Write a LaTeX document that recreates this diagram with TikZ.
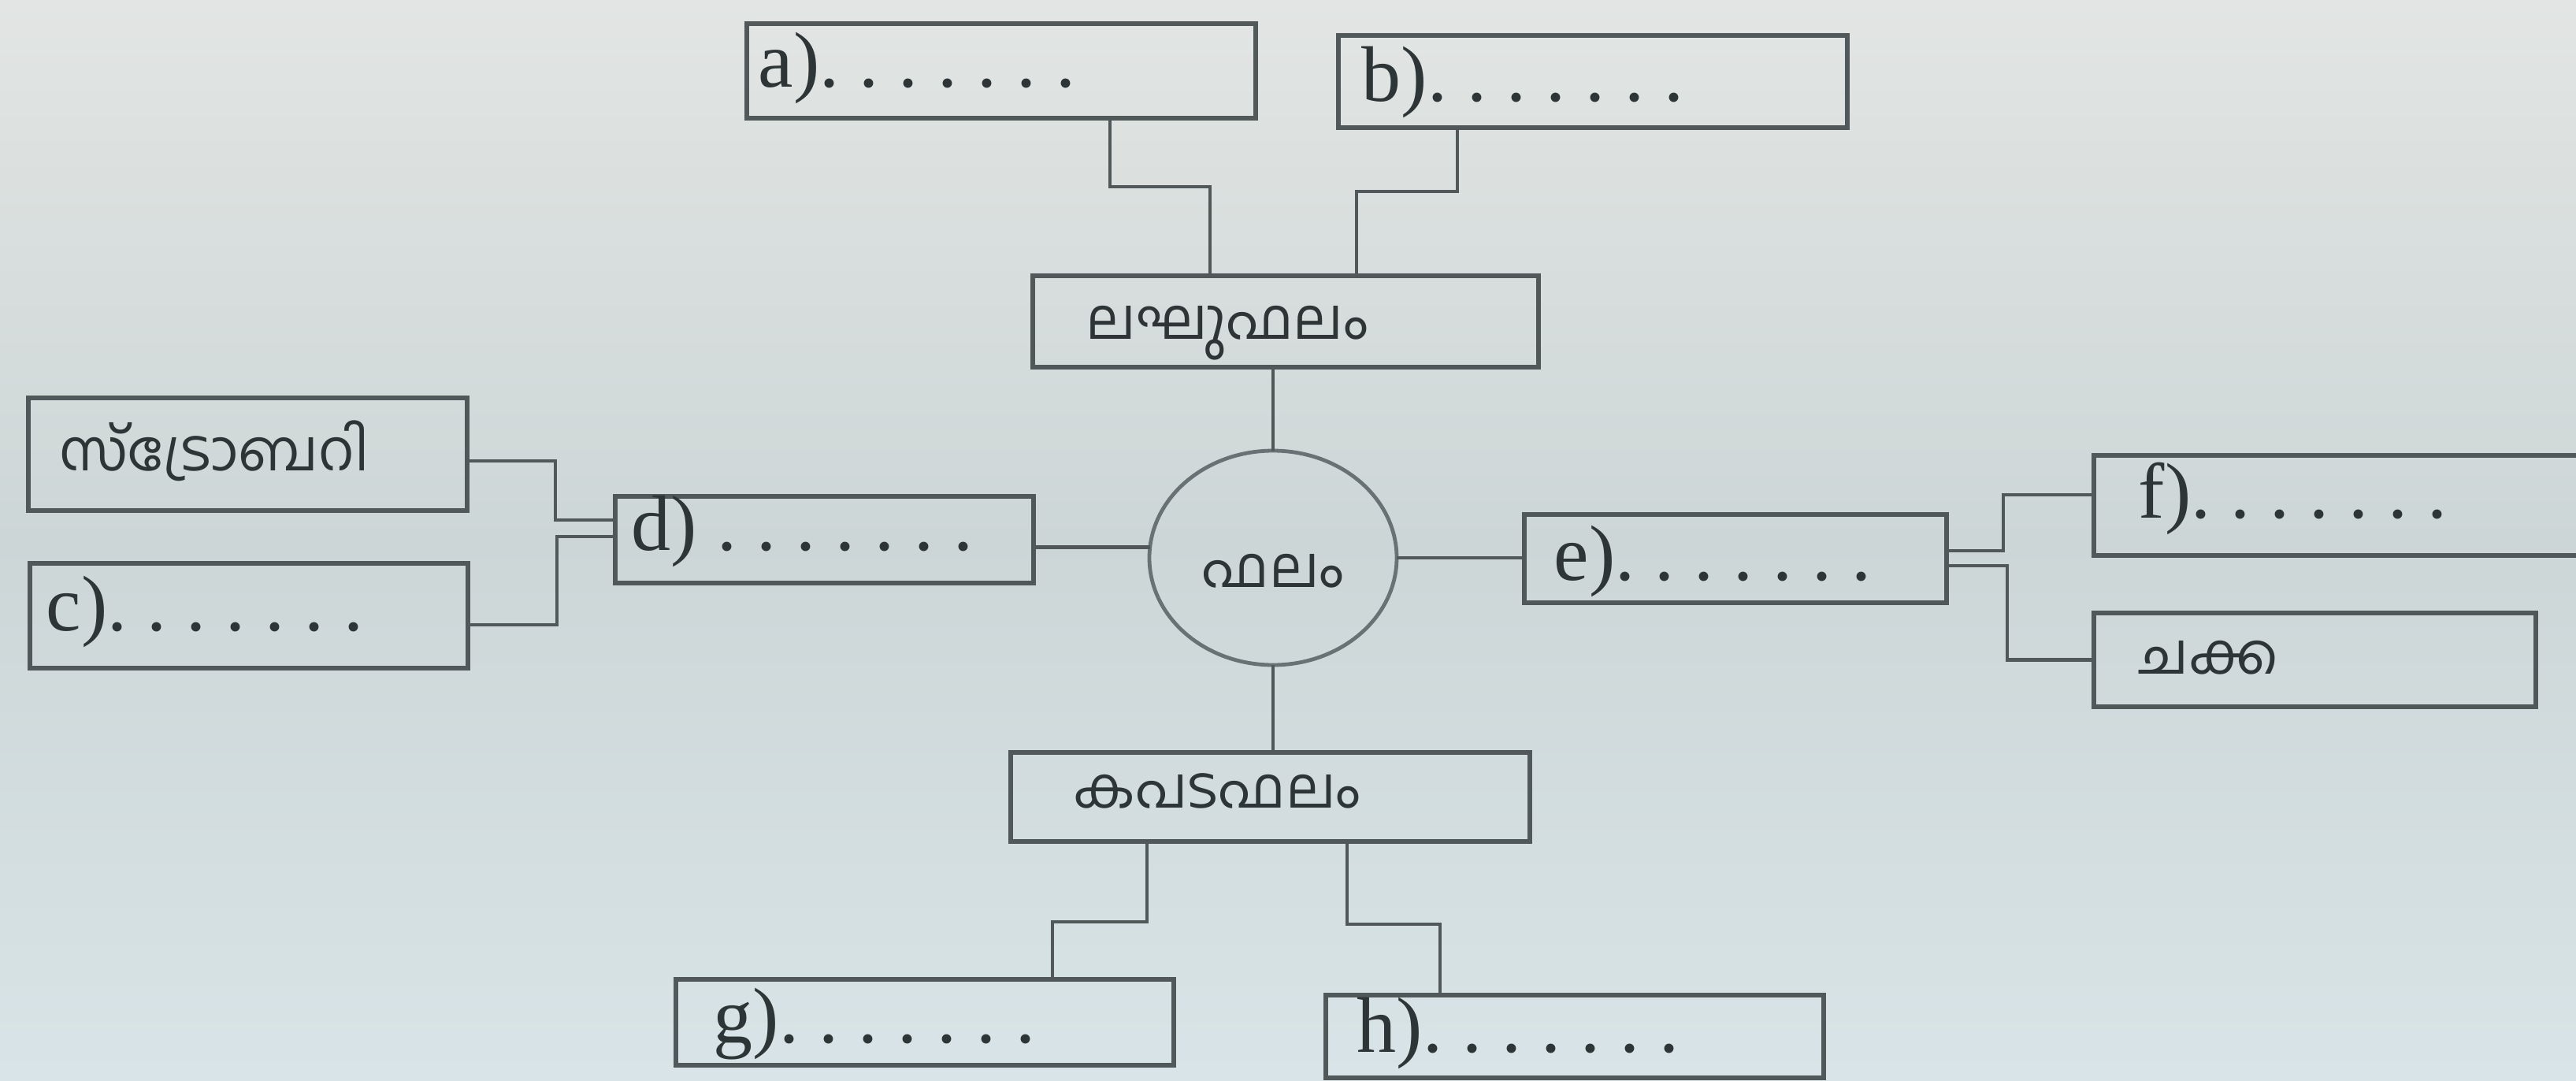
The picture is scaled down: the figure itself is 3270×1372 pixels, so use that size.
\documentclass[tikz,border=0pt]{standalone}
\usepackage{fontspec}
\setmainfont{Liberation Serif}
\newfontfamily\mal[Script=Malayalam]{Hind Kochi}
\usetikzlibrary{shapes.geometric}
\frenchspacing
\definecolor{linec}{HTML}{505859}
\definecolor{circc}{HTML}{687274}
\definecolor{txtc}{HTML}{2E3536}
\definecolor{bgtop}{HTML}{E2E5E3}
\definecolor{bgmid}{HTML}{CDD6D7}
\definecolor{bgbot}{HTML}{D8E4E7}
\def\pxu{0.25pt}
\begin{document}
\begin{tikzpicture}[x=0.25pt,y=-0.25pt,
  box/.style={draw=linec, line width=1.6pt, inner sep=0pt, outer sep=0pt, anchor=north west},
  conn/.style={draw=linec, line width=1.2pt},
  lat/.style={anchor=base west, inner sep=0pt, text=txtc, font=\fontsize{25}{25}\selectfont},
  mtxt/.style={anchor=base west, inner sep=0pt, text=txtc, font=\mal\fontsize{18}{18}\selectfont}]
\useasboundingbox (0,0) rectangle (3270,1372);
\shade[top color=bgtop, bottom color=bgbot, middle color=bgmid] (0,0) rectangle (3270,1372);
\begin{scope}
\clip (0,0) rectangle (3270,1372);
% boxes
\node[box, minimum width=646*\pxu, minimum height=120*\pxu] (a) at (948,30) {};
\node[box, minimum width=646*\pxu, minimum height=117*\pxu] (b) at (1699,45) {};
\node[box, minimum width=642*\pxu, minimum height=116*\pxu] (simple) at (1311,350) {};
\node[box, minimum width=557*\pxu, minimum height=143*\pxu] (straw) at (36,505) {};
\node[box, minimum width=556*\pxu, minimum height=133*\pxu] (c) at (38,715) {};
\node[box, minimum width=531*\pxu, minimum height=110*\pxu] (d) at (781,630) {};
\node[box, minimum width=536*\pxu, minimum height=112*\pxu] (e) at (1935,653) {};
\node[box, minimum width=700*\pxu, minimum height=127*\pxu] (f) at (2658,578) {};
\node[box, minimum width=561*\pxu, minimum height=119*\pxu] (chakka) at (2658,778) {};
\node[box, minimum width=659*\pxu, minimum height=113*\pxu] (false) at (1283,955) {};
\node[box, minimum width=632*\pxu, minimum height=109*\pxu] (g) at (858,1243) {};
\node[box, minimum width=632*\pxu, minimum height=105*\pxu] (h) at (1683,1263) {};
\node[draw=circc, line width=1.2pt, ellipse, minimum width=314*\pxu, minimum height=272*\pxu, inner sep=0pt, outer sep=0pt] (fruit) at (1616,708) {};
% texts
\node[lat] (ta) at (962,110) {a). . . . . . .};
\node[lat] (tb) at (1728,128) {b). . . . . . .};
\node[lat] (tc) at (58,800) {c). . . . . . .};
\node[lat] (td) at (801,698) {d) . . . . . . .};
\node[lat] (te) at (1972,736) {e). . . . . . .};
\node[lat] (tf) at (2714,657) {f). . . . . . .};
\node[lat] (tg) at (905,1323) {g). . . . . . .};
\node[lat] (th) at (1722,1335) {h). . . . . . .};
\node[mtxt] (tsimple) at (1378,430) {ലഘുഫലം};
\node[mtxt] (tfruit) at (1525,745) {ഫലം};
\node[mtxt] (tfalse) at (1362,1025) {കപടഫലം};
\node[mtxt] (tstraw) at (75,597) {സ്ട്രോബറി};
\node[mtxt] (tchakka) at (2714,855) {ചക്ക};
% connectors
\draw[conn] (a.south -| 1409,0) |- (1536,237) -- (simple.north -| 1536,0);
\draw[conn] (b.south -| 1850,0) |- (1722,243) -- (simple.north -| 1722,0);
\draw[conn] (fruit.north) -- (fruit.north |- simple.south);
\draw[conn] (fruit.south) -- (fruit.south |- false.north);
\draw[conn] (fruit.175) -- (fruit.175 -| d.east);
\draw[conn] (fruit.east) -- (fruit.east -| e.west);
\draw[conn] (d.west |- 0,660) -| (705,585) -- (straw.east |- 0,585);
\draw[conn] (d.west |- 0,681) -| (707,793) -- (c.east |- 0,793);
\draw[conn] (e.east |- 0,699) -- (2543,699) |- (f.west |- 0,628);
\draw[conn] (e.east |- 0,718) -- (2548,718) |- (chakka.west);
\draw[conn] (false.south -| 1456,0) |- (1336,1170) -- (g.north -| 1336,0);
\draw[conn] (false.south -| 1710,0) |- (1828,1173) -- (h.north -| 1828,0);
\end{scope}
\end{tikzpicture}
\end{document}
